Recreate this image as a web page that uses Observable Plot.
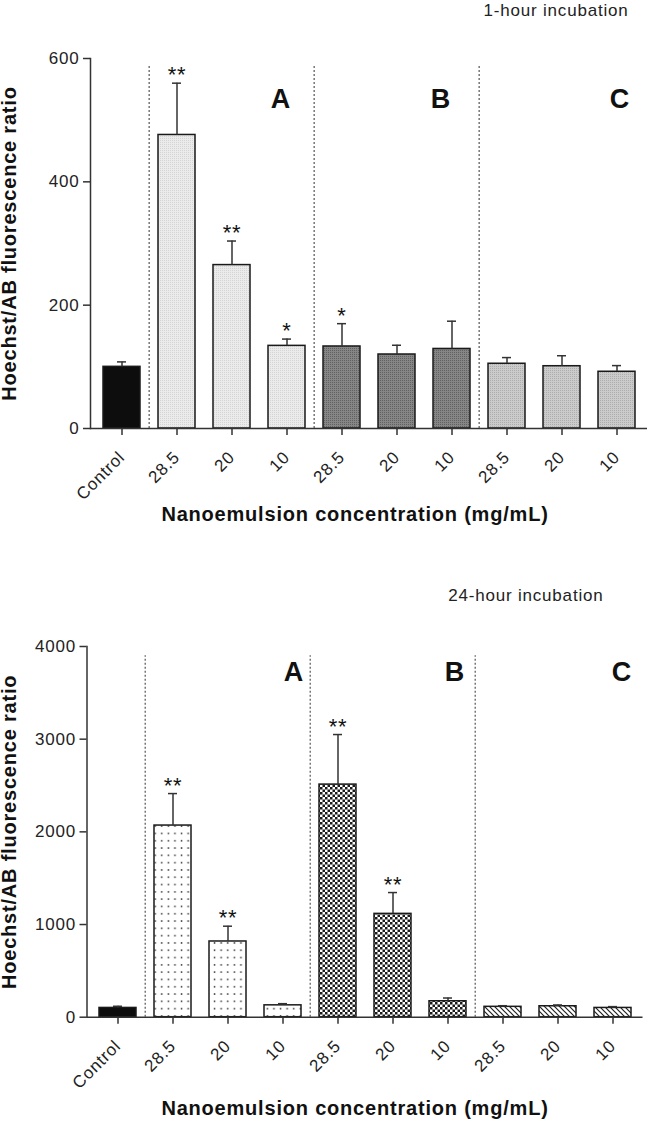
<!DOCTYPE html>
<html>
<head>
<meta charset="utf-8">
<script src="https://cdn.jsdelivr.net/npm/d3@7"></script>
<script src="https://cdn.jsdelivr.net/npm/@observablehq/plot@0.6"></script>
<style>
  body { margin: 0; background: #fff; }
  #chart { width: 648px; }
  #chart svg { display: block; }
</style>
</head>
<body>
<div id="chart"></div>
<script>
// ---- data ----
const categories = ["Control", "A 28.5", "A 20", "A 10", "B 28.5", "B 20", "B 10", "C 28.5", "C 20", "C 10"];
const tickLabels = ["Control", "28.5", "20", "10", "28.5", "20", "10", "28.5", "20", "10"];
const groups = ["Control", "A", "A", "A", "B", "B", "B", "C", "C", "C"];
const panelLabels = ["A", "B", "C"];

const hour1Values = [100, 476, 265, 134, 133, 120, 129, 105, 101, 92];
const hour1Errors = [8, 84, 39, 11, 37, 15, 45, 10, 17, 10];
const hour1Stars = ["", "**", "**", "*", "*", "", "", "", "", ""];
const hour1Ticks = [0, 200, 400, 600];

const hour24Values = [100, 2068, 817, 128, 2510, 1115, 172, 112, 118, 100];
const hour24Errors = [18, 345, 165, 18, 540, 230, 35, 12, 14, 14];
const hour24Stars = ["", "**", "**", "", "**", "**", "", "", "", ""];
const hour24Ticks = [0, 1000, 2000, 3000, 4000];

const yTitle = "Hoechst/AB fluorescence ratio";
const xTitle = "Nanoemulsion concentration (mg/mL)";

const FONT = "'Liberation Sans', Arial, Helvetica, sans-serif";

function addPatterns(svg, defsMarkup) {
  const defs = document.createElementNS("http://www.w3.org/2000/svg", "defs");
  defs.innerHTML = defsMarkup;
  svg.insertBefore(defs, svg.firstChild);
}

function panel(o) {
  const W = 648;
  const n = categories.length;
  const step = (W - o.marginLeft - o.marginRight) / n;
  const rows = categories.map((c, i) => ({
    cat: c, group: groups[i], value: o.values[i], err: o.errors[i],
    top: o.values[i] + o.errors[i], star: o.stars[i]
  }));
  const dividers = categories.filter((c, i) => i > 0 && groups[i] !== groups[i - 1]);
  const barMarks = ["Control", "A", "B", "C"].map(g =>
    Plot.barY(rows.filter(d => d.group === g), {
      x: "cat", y: "value", fill: o.fills[g], stroke: "#1a1a1a", strokeWidth: 1.5
    })
  );
  const labelMarks = panelLabels.map((p, i) => {
    const cat = categories[groups.lastIndexOf(p)];
    return Plot.text([p], {
      x: () => cat, frameAnchor: "top", dy: o.labelDy, dx: o.labelDx[i],
      text: d => d, fontSize: 27, fontWeight: "bold", fill: "#111",
      lineAnchor: "middle", textAnchor: "middle"
    });
  });
  const svg = Plot.plot({
    width: W,
    height: o.height,
    marginTop: o.marginTop,
    marginBottom: o.marginBottom,
    marginLeft: o.marginLeft,
    marginRight: o.marginRight,
    style: { fontFamily: FONT, background: "white", color: "#222", letterSpacing: "0.8px", overflow: "visible" },
    x: { domain: categories, paddingInner: 0.33, paddingOuter: 0.165, align: 0.5 },
    y: { domain: o.yDomain },
    marks: [
      Plot.ruleX(dividers, {
        x: d => d, dx: -step / 2, y1: 0, y2: o.dividerTop,
        stroke: "#555", strokeWidth: 1.2, strokeDasharray: "2,2"
      }),
      ...barMarks,
      Plot.ruleX(rows, { x: "cat", y1: "value", y2: "top", stroke: "#333", strokeWidth: 1.5 }),
      Plot.tickY(rows, { x: "cat", y: "top", stroke: "#333", strokeWidth: 1.5, inset: 14 }),
      Plot.text(rows, { x: "cat", y: "top", text: "star", dy: -8, fontSize: 22, fill: "#111" }),
      ...labelMarks,
      Plot.axisY({
        ticks: o.yTicks, tickSize: 7, tickPadding: 4, fontSize: 17, label: null,
        stroke: "#333", strokeWidth: 1.5, tickFormat: d => String(d)
      }),
      Plot.frame({ anchor: "left", stroke: "#333", strokeWidth: 1.5 }),
      Plot.axisX({
        tickSize: 7, tickPadding: 19, tickRotate: -45, fontSize: 17, label: null,
        stroke: "#333", strokeWidth: 1.5,
        tickFormat: d => tickLabels[categories.indexOf(d)]
      }),
      Plot.ruleY([0], { stroke: "#333", strokeWidth: 1.5 }),
      Plot.text([yTitle], {
        frameAnchor: "left", dx: -(o.marginLeft - 9.5), rotate: -90,
        text: d => d, fontSize: 20, fontWeight: "bold", fill: "#111",
        textAnchor: "middle", lineAnchor: "middle"
      }),
      Plot.text([xTitle], {
        frameAnchor: "bottom", dy: o.xTitleDy, dx: o.xTitleDx, text: d => d,
        fontSize: 20, fontWeight: "bold", fill: "#111",
        textAnchor: "middle", lineAnchor: "middle"
      }),
      Plot.text([o.title], {
        frameAnchor: "top-right", dx: o.titleDx, dy: o.titleDy, text: d => d,
        fontSize: 17, fill: "#222", textAnchor: "end", lineAnchor: "middle"
      })
    ]
  });
  addPatterns(svg, o.defs);
  return svg;
}

const topDefs = `
<pattern id="p1A" patternUnits="userSpaceOnUse" width="2" height="2">
  <rect width="2" height="2" fill="#ebebeb"/><rect width="1" height="1" fill="#d4d4d4"/>
</pattern>
<pattern id="p1B" patternUnits="userSpaceOnUse" width="2" height="2">
  <rect width="2" height="2" fill="#868686"/><rect width="1" height="1" fill="#606060"/>
</pattern>
<pattern id="p1C" patternUnits="userSpaceOnUse" width="2" height="2">
  <rect width="2" height="2" fill="#cbcbcb"/><rect width="1" height="1" fill="#adadad"/>
</pattern>`;

const bottomDefs = `
<pattern id="p24A" patternUnits="userSpaceOnUse" width="6.6" height="7.3">
  <rect width="6.6" height="7.3" fill="#ffffff"/><rect x="2.6" y="2.9" width="1.5" height="1.5" fill="#333"/>
</pattern>
<pattern id="p24B" patternUnits="userSpaceOnUse" width="5" height="5">
  <rect width="5" height="5" fill="#ffffff"/>
  <rect x="0" y="0" width="2.5" height="2.5" fill="#1a1a1a"/>
  <rect x="2.5" y="2.5" width="2.5" height="2.5" fill="#1a1a1a"/>
</pattern>
<pattern id="p24C" patternUnits="userSpaceOnUse" width="5" height="5">
  <rect width="5" height="5" fill="#ffffff"/>
  <path d="M-1,-1 L6,6 M-1,4 L1,6 M4,-1 L6,1" stroke="#222" stroke-width="1.2"/>
</pattern>`;

const chartTop = panel({
  height: 567, marginTop: 58, marginBottom: 139, marginLeft: 90, marginRight: 1,
  values: hour1Values, errors: hour1Errors, stars: hour1Stars,
  yDomain: [0, 600], yTicks: hour1Ticks, dividerTop: 590,
  fills: { Control: "#0d0d0d", A: "url(#p1A)", B: "url(#p1B)", C: "url(#p1C)" },
  labelDy: 41, labelDx: [-6, -11, 3],
  xTitleDy: 86.5, xTitleDx: -14, title: "1-hour incubation", titleDx: -19, titleDy: -48,
  defs: topDefs
});

const chartBottom = panel({
  height: 568, marginTop: 79, marginBottom: 118.3, marginLeft: 86.5, marginRight: 5.5,
  values: hour24Values, errors: hour24Errors, stars: hour24Stars,
  yDomain: [0, 4000], yTicks: hour24Ticks, dividerTop: 3900,
  fills: { Control: "#0d0d0d", A: "url(#p24A)", B: "url(#p24B)", C: "url(#p24C)" },
  labelDy: 26, labelDx: [11, 7, 9],
  xTitleDy: 91, xTitleDx: -10, title: "24-hour incubation", titleDx: -39.5, titleDy: -51,
  defs: bottomDefs
});

document.getElementById("chart").append(chartTop, chartBottom);
</script>
</body>
</html>
